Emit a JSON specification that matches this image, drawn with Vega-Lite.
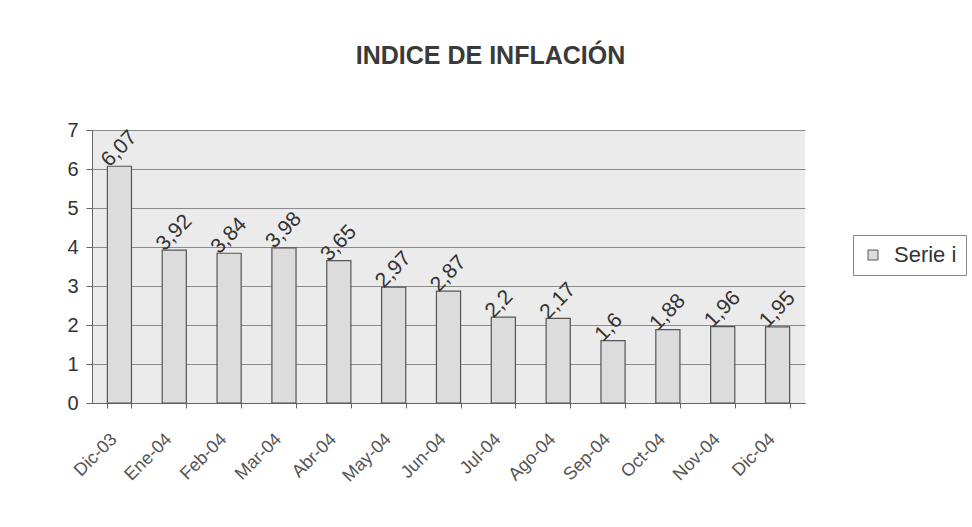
{
  "$schema": "https://vega.github.io/schema/vega-lite/v6.json",
  "autosize": "none",
  "width": 713,
  "height": 273,
  "padding": {"left": 92, "top": 130, "right": 167, "bottom": 124},
  "background": "#ffffff",
  "title": {
    "text": "INDICE DE INFLACIÓN",
    "font": "Liberation Sans",
    "fontSize": 25,
    "fontWeight": "bold",
    "color": "#3a3a3a",
    "anchor": "middle",
    "dx": 42,
    "offset": 51
  },
  "config": {
    "locale": {"number": {"decimal": ",", "thousands": ".", "grouping": [3], "currency": ["", "€"]}},
    "view": {"fill": "#ebebeb", "stroke": null},
    "font": "Liberation Sans"
  },
  "data": {
    "values": [
      {"mes": "Dic-03", "valor": 6.07, "serie": "Serie1"},
      {"mes": "Ene-04", "valor": 3.92, "serie": "Serie1"},
      {"mes": "Feb-04", "valor": 3.84, "serie": "Serie1"},
      {"mes": "Mar-04", "valor": 3.98, "serie": "Serie1"},
      {"mes": "Abr-04", "valor": 3.65, "serie": "Serie1"},
      {"mes": "May-04", "valor": 2.97, "serie": "Serie1"},
      {"mes": "Jun-04", "valor": 2.87, "serie": "Serie1"},
      {"mes": "Jul-04", "valor": 2.2, "serie": "Serie1"},
      {"mes": "Ago-04", "valor": 2.17, "serie": "Serie1"},
      {"mes": "Sep-04", "valor": 1.6, "serie": "Serie1"},
      {"mes": "Oct-04", "valor": 1.88, "serie": "Serie1"},
      {"mes": "Nov-04", "valor": 1.96, "serie": "Serie1"},
      {"mes": "Dic-04", "valor": 1.95, "serie": "Serie1"}
    ]
  },
  "encoding": {
    "x": {
      "field": "mes",
      "type": "nominal",
      "sort": null,
      "title": null,
      "scale": {"paddingInner": 0.56, "paddingOuter": 0.28},
      "axis": {
        "labelAngle": -45,
        "labelAlign": "right",
        "labelBaseline": "top",
        "labelFontSize": 18,
        "labelColor": "#555555",
        "labelPadding": 22,
        "labelOffset": -12,
        "tickBand": "extent",
        "tickColor": "#666666",
        "tickSize": 5,
        "domainColor": "#666666",
        "grid": false
      }
    },
    "y": {
      "field": "valor",
      "type": "quantitative",
      "title": null,
      "scale": {"domain": [0, 7], "nice": false},
      "axis": {
        "values": [0, 1, 2, 3, 4, 5, 6, 7],
        "labelFontSize": 20,
        "labelColor": "#333333",
        "labelPadding": 8,
        "tickColor": "#666666",
        "tickSize": 6,
        "domainColor": "#666666",
        "gridColor": "#8a8a8a",
        "gridWidth": 1
      }
    }
  },
  "layer": [
    {
      "mark": {"type": "bar", "stroke": "#555555", "strokeWidth": 1.2},
      "encoding": {
        "color": {
          "field": "serie",
          "type": "nominal",
          "scale": {"range": ["#dcdcdc"]},
          "legend": {
            "title": null,
            "orient": "none",
            "legendX": 761,
            "legendY": 105,
            "symbolType": "square",
            "symbolSize": 100,
            "symbolStrokeColor": "#555555",
            "symbolStrokeWidth": 1,
            "labelFontSize": 22,
            "labelOffset": 10,
            "labelColor": "#333333",
            "strokeColor": "#888888",
            "padding": 9,
            "labelExpr": "'Serie i'"
          }
        }
      }
    },
    {
      "mark": {
        "type": "text",
        "angle": -46,
        "align": "left",
        "baseline": "alphabetic",
        "dx": -8,
        "dy": -6,
        "fontSize": 21,
        "color": "#333333"
      },
      "encoding": {
        "text": {"field": "valor", "type": "quantitative", "format": "~g"}
      }
    }
  ]
}
